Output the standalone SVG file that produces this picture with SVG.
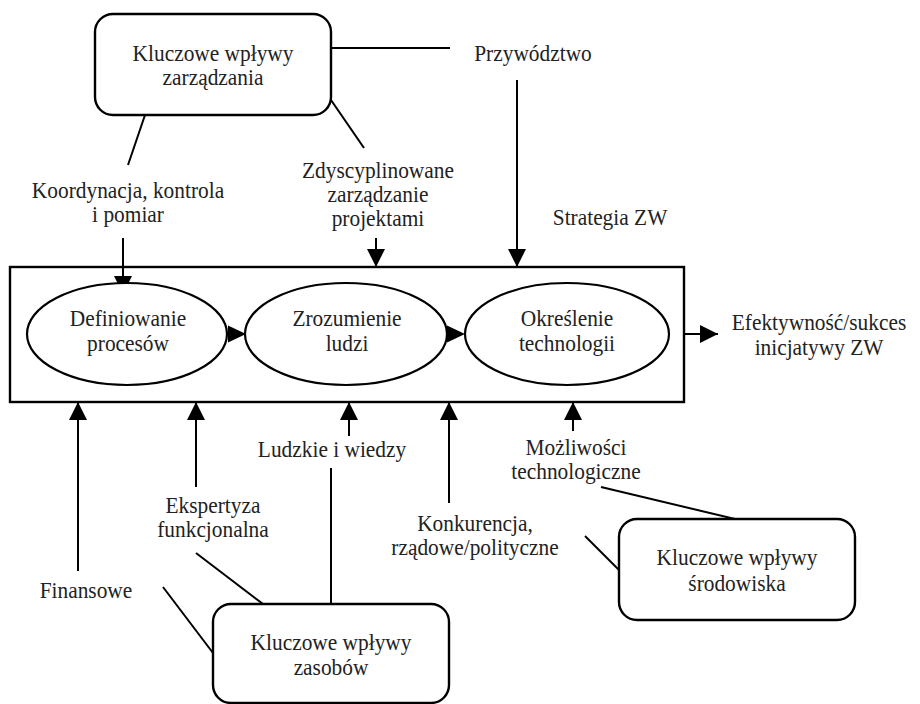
<svg xmlns="http://www.w3.org/2000/svg" width="920" height="704" viewBox="0 0 920 704" font-family="Liberation Serif, serif">
  <defs>
    <marker id="head" markerUnits="userSpaceOnUse" markerWidth="18" markerHeight="18" refX="18" refY="9" orient="auto">
      <path d="M0,0 L18,9 L0,18 Z" fill="#000"/>
    </marker>
    <style>
      .box { fill: #fff; stroke: #000; stroke-width: 2.4; }
      .ell { fill: #fff; stroke: #000; stroke-width: 2.2; }
      .ln { fill: none; stroke: #000; stroke-width: 2; }
      .arr { fill: none; stroke: #000; stroke-width: 2; marker-end: url(#head); }
      text { font-family: "Liberation Serif", serif; font-size: 23.5px; fill: #222; text-anchor: middle;
             transform-box: fill-box; transform-origin: center; transform: scaleX(0.91); }
    </style>
  </defs>

  <rect width="920" height="704" fill="#fff"/>

  <!-- process frame -->
  <g id="frame">
    <rect class="box" x="10" y="267" width="674" height="135"/>
  </g>

  <!-- connectors -->
  <g id="connectors">
    <line class="ln" x1="331" y1="48" x2="450" y2="48"/>
    <line class="ln" x1="145" y1="115" x2="128" y2="165"/>
    <line class="ln" x1="331" y1="100" x2="364" y2="148"/>
    <line class="arr" x1="123" y1="238" x2="123" y2="294"/>
    <line class="arr" x1="376" y1="238" x2="376" y2="267"/>
    <line class="arr" x1="517" y1="80" x2="517" y2="267"/>
    <line class="arr" x1="684" y1="334" x2="718" y2="334"/>
    <line class="arr" x1="78" y1="571" x2="78" y2="402"/>
    <line class="arr" x1="196" y1="487" x2="196" y2="402"/>
    <line class="arr" x1="349" y1="436" x2="349" y2="402"/>
    <line class="arr" x1="449" y1="503" x2="449" y2="402"/>
    <line class="arr" x1="573" y1="431" x2="573" y2="402"/>
    <line class="ln" x1="331" y1="468" x2="331" y2="604"/>
    <line class="ln" x1="196" y1="553" x2="263" y2="604"/>
    <line class="ln" x1="163" y1="587" x2="213" y2="653"/>
    <line class="ln" x1="601" y1="487" x2="735" y2="519"/>
    <line class="ln" x1="585" y1="536" x2="619" y2="570"/>
  </g>

  <!-- stages inside the frame -->
  <g id="definiowanie">
    <ellipse class="ell" cx="127" cy="334" rx="100" ry="51"/>
    <text x="128" y="326">Definiowanie</text>
    <text x="128" y="351">procesów</text>
  </g>
  <g id="zrozumienie">
    <ellipse class="ell" cx="346" cy="334" rx="101" ry="51"/>
    <text x="347" y="326">Zrozumienie</text>
    <text x="347" y="351">ludzi</text>
  </g>
  <g id="okreslenie">
    <ellipse class="ell" cx="567" cy="334" rx="102" ry="51"/>
    <text x="567" y="326">Określenie</text>
    <text x="567" y="351">technologii</text>
  </g>
  <g id="stage-arrows">
    <path d="M228,325.5 L246,334 L228,342.5 Z" fill="#000"/>
    <path d="M447,325.5 L465,334 L447,342.5 Z" fill="#000"/>
  </g>

  <!-- influence boxes -->
  <g id="zarzadzanie">
    <rect class="box" x="95" y="14" width="236" height="101" rx="18"/>
    <text x="213" y="61">Kluczowe wpływy</text>
    <text x="213" y="85">zarządzania</text>
  </g>
  <g id="zasoby">
    <rect class="box" x="213" y="604" width="236" height="99" rx="18"/>
    <text x="331" y="650">Kluczowe wpływy</text>
    <text x="331" y="675">zasobów</text>
  </g>
  <g id="srodowisko">
    <rect class="box" x="619" y="519" width="236" height="101" rx="18"/>
    <text x="737" y="565">Kluczowe wpływy</text>
    <text x="737" y="591">środowiska</text>
  </g>

  <!-- labels -->
  <g id="labels">
    <text x="533" y="61">Przywództwo</text>
    <text x="128" y="198">Koordynacja, kontrola</text>
    <text x="128" y="222">i pomiar</text>
    <text x="378" y="178">Zdyscyplinowane</text>
    <text x="378" y="202">zarządzanie</text>
    <text x="378" y="226">projektami</text>
    <text x="610" y="225">Strategia ZW</text>
    <text x="819" y="330">Efektywność/sukces</text>
    <text x="819" y="355">inicjatywy ZW</text>
    <text x="86" y="598">Finansowe</text>
    <text x="213" y="513">Ekspertyza</text>
    <text x="213" y="537">funkcjonalna</text>
    <text x="332" y="457">Ludzkie i wiedzy</text>
    <text x="475" y="531">Konkurencja,</text>
    <text x="475" y="555">rządowe/polityczne</text>
    <text x="576" y="455">Możliwości</text>
    <text x="576" y="479">technologiczne</text>
  </g>
</svg>
